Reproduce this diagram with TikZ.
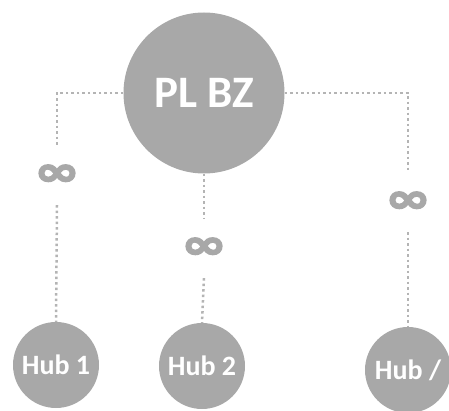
\documentclass[tikz,border=0pt]{standalone}
\usepackage{fontspec}
\setmainfont{Carlito}
\newfontfamily\symfont[FakeBold=4]{DejaVu Sans Bold}
\newcommand\multsym{\scalebox{1.35}[1]{∞}}
\definecolor{hubgray}{RGB}{168,168,168}
\definecolor{linkgray}{RGB}{180,180,180}

\begin{document}
\begin{tikzpicture}[x=1pt,y=-1pt,
  hub/.style = {shape=circle, fill=hubgray, text=white,
    font=\bfseries\fontsize{28}{28}\selectfont, inner sep=0pt,
    minimum size=86pt},
  mult/.style = {text=hubgray, inner sep=0pt, minimum height=60pt,
    font=\symfont\fontsize{40}{40}\selectfont},
  link/.style = {draw=linkgray, line width=2.5pt,
    dash pattern=on 2.5pt off 3pt}]
  \useasboundingbox (0,0) rectangle (449,411);
  \node[hub, minimum size=161pt, font=\bfseries\fontsize{45}{45}\selectfont]
    (main) at (204,93) {PL BZ};
  \node[hub] (hub1) at (56,365) {Hub 1};
  \node[hub] (hub2) at (202,366) {Hub 2};
  \node[hub] (hub3) at (408,370) {Hub /};
  \node[mult] (inf1) at (57,175) {\multsym};
  \node[mult] (inf2) at (204,248) {\multsym};
  \node[mult] (inf3) at (408,202) {\multsym};
  % links with multiplicity
  \draw[link] (main.west) -| (inf1.north);
  \draw[link] (inf1.south) -- (hub1.north);
  \draw[link] (main.south) -- (inf2.north);
  \draw[link] (inf2.south) -- (hub2.north);
  \draw[link] (main.east) -| (inf3.north);
  \draw[link] (inf3.south) -- (hub3.north);
\end{tikzpicture}
\end{document}
